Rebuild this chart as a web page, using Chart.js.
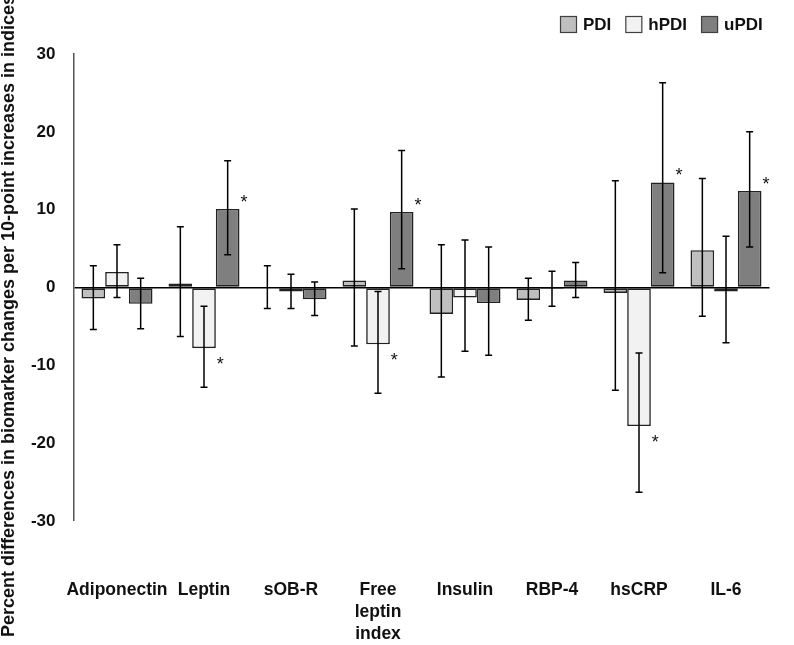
<!DOCTYPE html>
<html>
<head>
<meta charset="utf-8">
<script src="https://cdn.jsdelivr.net/npm/chart.js@4.4.1/dist/chart.umd.min.js"></script>
<style>
  html, body { margin: 0; padding: 0; background: #fff; }
  #wrap { width: 794px; height: 645px; }
</style>
</head>
<body>
<div id="wrap"><canvas id="chart" width="794" height="645"></canvas></div>
<script>
// categories and values (percent differences, 95% CI)
const categories = ['Adiponectin', 'Leptin', 'sOB-R', ['Free', 'leptin', 'index'], 'Insulin', 'RBP-4', 'hsCRP', 'IL-6'];

const pdi     = [-1.4,  0.5,  0.1,  0.9, -3.4, -1.6,  -0.7,  4.8];
const pdiLow  = [-5.4, -6.3, -2.7, -7.5, -11.5, -4.2, -13.2, -3.7];
const pdiHigh = [ 2.8,  7.8,  2.8, 10.1,  5.5,  1.2,  13.7, 14.0];
const pdiSig  = [0, 0, 0, 0, 0, 0, 0, 0];

const hpdi     = [ 2.0,  -7.8, -0.5,  -7.3, -1.3, -0.2, -17.8, -0.5];
const hpdiLow  = [-1.3, -12.8, -2.7, -13.6, -8.2, -2.4, -26.3, -7.1];
const hpdiHigh = [ 5.5,  -2.4,  1.7,  -0.5,  6.1,  2.1,  -8.4,  6.6];
const hpdiSig  = [0, 1, 0, 1, 0, 0, 1, 0];

const updi     = [-2.1, 10.1, -1.5,  9.7, -2.0,  0.9, 13.5, 12.4];
const updiLow  = [-5.3,  4.2, -3.6,  2.4, -8.7, -1.3,  1.9,  5.2];
const updiHigh = [ 1.2, 16.3,  0.7, 17.6,  5.2,  3.2, 26.3, 20.0];
const updiSig  = [0, 1, 0, 1, 0, 0, 1, 1];

const yTicks = [-30, -20, -10, 0, 10, 20, 30];
const yTitle = 'Percent differences in biomarker changes per 10-point increases in indices';

const FONT = "'Liberation Sans', Arial, sans-serif";
const INK = '#111';

// error bars with small caps
const errorBars = {
  id: 'errorBars',
  afterDatasetsDraw(chart) {
    const ctx = chart.ctx;
    const y = chart.scales.y;
    ctx.save();
    ctx.strokeStyle = '#000';
    ctx.lineWidth = 1.5;
    chart.data.datasets.forEach((ds, i) => {
      const meta = chart.getDatasetMeta(i);
      meta.data.forEach((bar, j) => {
        const x = bar.x;
        const lo = y.getPixelForValue(ds.low[j]);
        const hi = y.getPixelForValue(ds.high[j]);
        ctx.beginPath();
        ctx.moveTo(x, lo); ctx.lineTo(x, hi);
        ctx.moveTo(x - 3.5, lo); ctx.lineTo(x + 3.5, lo);
        ctx.moveTo(x - 3.5, hi); ctx.lineTo(x + 3.5, hi);
        ctx.stroke();
      });
    });
    ctx.restore();
  }
};

// asterisks next to significant bars
const sigMarks = {
  id: 'sigMarks',
  afterDatasetsDraw(chart) {
    const ctx = chart.ctx;
    ctx.save();
    ctx.fillStyle = INK;
    ctx.font = '18px ' + FONT;
    ctx.textAlign = 'center';
    ctx.textBaseline = 'alphabetic';
    chart.data.datasets.forEach((ds, i) => {
      const meta = chart.getDatasetMeta(i);
      meta.data.forEach((bar, j) => {
        if (!ds.sig[j]) return;
        const x = bar.x + bar.width / 2 + 4.5;
        const cy = ds.data[j] >= 0 ? bar.y - 11 : bar.y + 12;
        ctx.fillText('*', x, cy + 10);
      });
    });
    ctx.restore();
  }
};

// legend top right
const topLegend = {
  id: 'topLegend',
  afterDraw(chart) {
    const ctx = chart.ctx;
    ctx.save();
    ctx.font = 'bold 17px ' + FONT;
    ctx.textBaseline = 'middle';
    let x = 560;
    chart.data.datasets.forEach(ds => {
      ctx.fillStyle = ds.backgroundColor;
      ctx.fillRect(x, 16, 17, 17);
      ctx.strokeStyle = '#404040';
      ctx.lineWidth = 1.2;
      ctx.strokeRect(x + 0.5, 16.5, 16, 16);
      ctx.fillStyle = INK;
      ctx.fillText(ds.label, x + 23, 25);
      x += 23 + ctx.measureText(ds.label).width + 14;
    });
    ctx.restore();
  }
};

// rotated y title, placed against the left edge of the figure
const yTitlePlugin = {
  id: 'yTitlePlugin',
  afterDraw(chart) {
    const ctx = chart.ctx;
    ctx.save();
    ctx.translate(13.5, 316);
    ctx.rotate(-Math.PI / 2);
    ctx.font = 'bold 18px ' + FONT;
    ctx.fillStyle = INK;
    ctx.textAlign = 'center';
    ctx.textBaseline = 'alphabetic';
    ctx.fillText(yTitle, 0, 0);
    ctx.restore();
  }
};

function series(label, data, low, high, sig, color) {
  return {
    label, data, low, high, sig,
    backgroundColor: color,
    borderColor: '#222',
    borderWidth: 1.6,
    borderSkipped: false,
    categoryPercentage: 0.816,
    barPercentage: 1.0
  };
}

new Chart(document.getElementById('chart'), {
  type: 'bar',
  data: {
    labels: categories,
    datasets: [
      series('PDI', pdi, pdiLow, pdiHigh, pdiSig, '#bfbfbf'),
      series('hPDI', hpdi, hpdiLow, hpdiHigh, hpdiSig, '#f2f2f2'),
      series('uPDI', updi, updiLow, updiHigh, updiSig, '#7f7f7f')
    ]
  },
  options: {
    responsive: false,
    animation: false,
    devicePixelRatio: 1,
    layout: { padding: { top: 54, right: 24.5, bottom: 0, left: 0 } },
    plugins: {
      legend: { display: false },
      tooltip: { enabled: false }
    },
    scales: {
      x: {
        grid: { display: false, drawTicks: false },
        border: { display: false },
        afterFit(scale) {
          scale.height = 124;
          scale.paddingLeft = 0;
          scale.paddingRight = 0;
        },
        ticks: {
          color: INK,
          padding: 58,
          maxRotation: 0,
          autoSkip: false,
          font: { family: FONT, size: 17.5, weight: 'bold', lineHeight: 1.26 }
        }
      },
      y: {
        min: -30,
        max: 30,
        afterBuildTicks(scale) { scale.ticks = yTicks.map(v => ({ value: v })); },
        afterFit(scale) { scale.width = 73.5; },
        border: { display: true, color: '#555', width: 1.5 },
        grid: {
          drawTicks: false,
          color: c => (c.tick && c.tick.value === 0 ? '#000' : 'rgba(0,0,0,0)'),
          lineWidth: c => (c.tick && c.tick.value === 0 ? 1.6 : 0)
        },
        ticks: {
          color: INK,
          padding: 18,
          font: { family: FONT, size: 17, weight: 'bold' }
        }
      }
    }
  },
  plugins: [errorBars, sigMarks, topLegend, yTitlePlugin]
});
</script>
</body>
</html>
